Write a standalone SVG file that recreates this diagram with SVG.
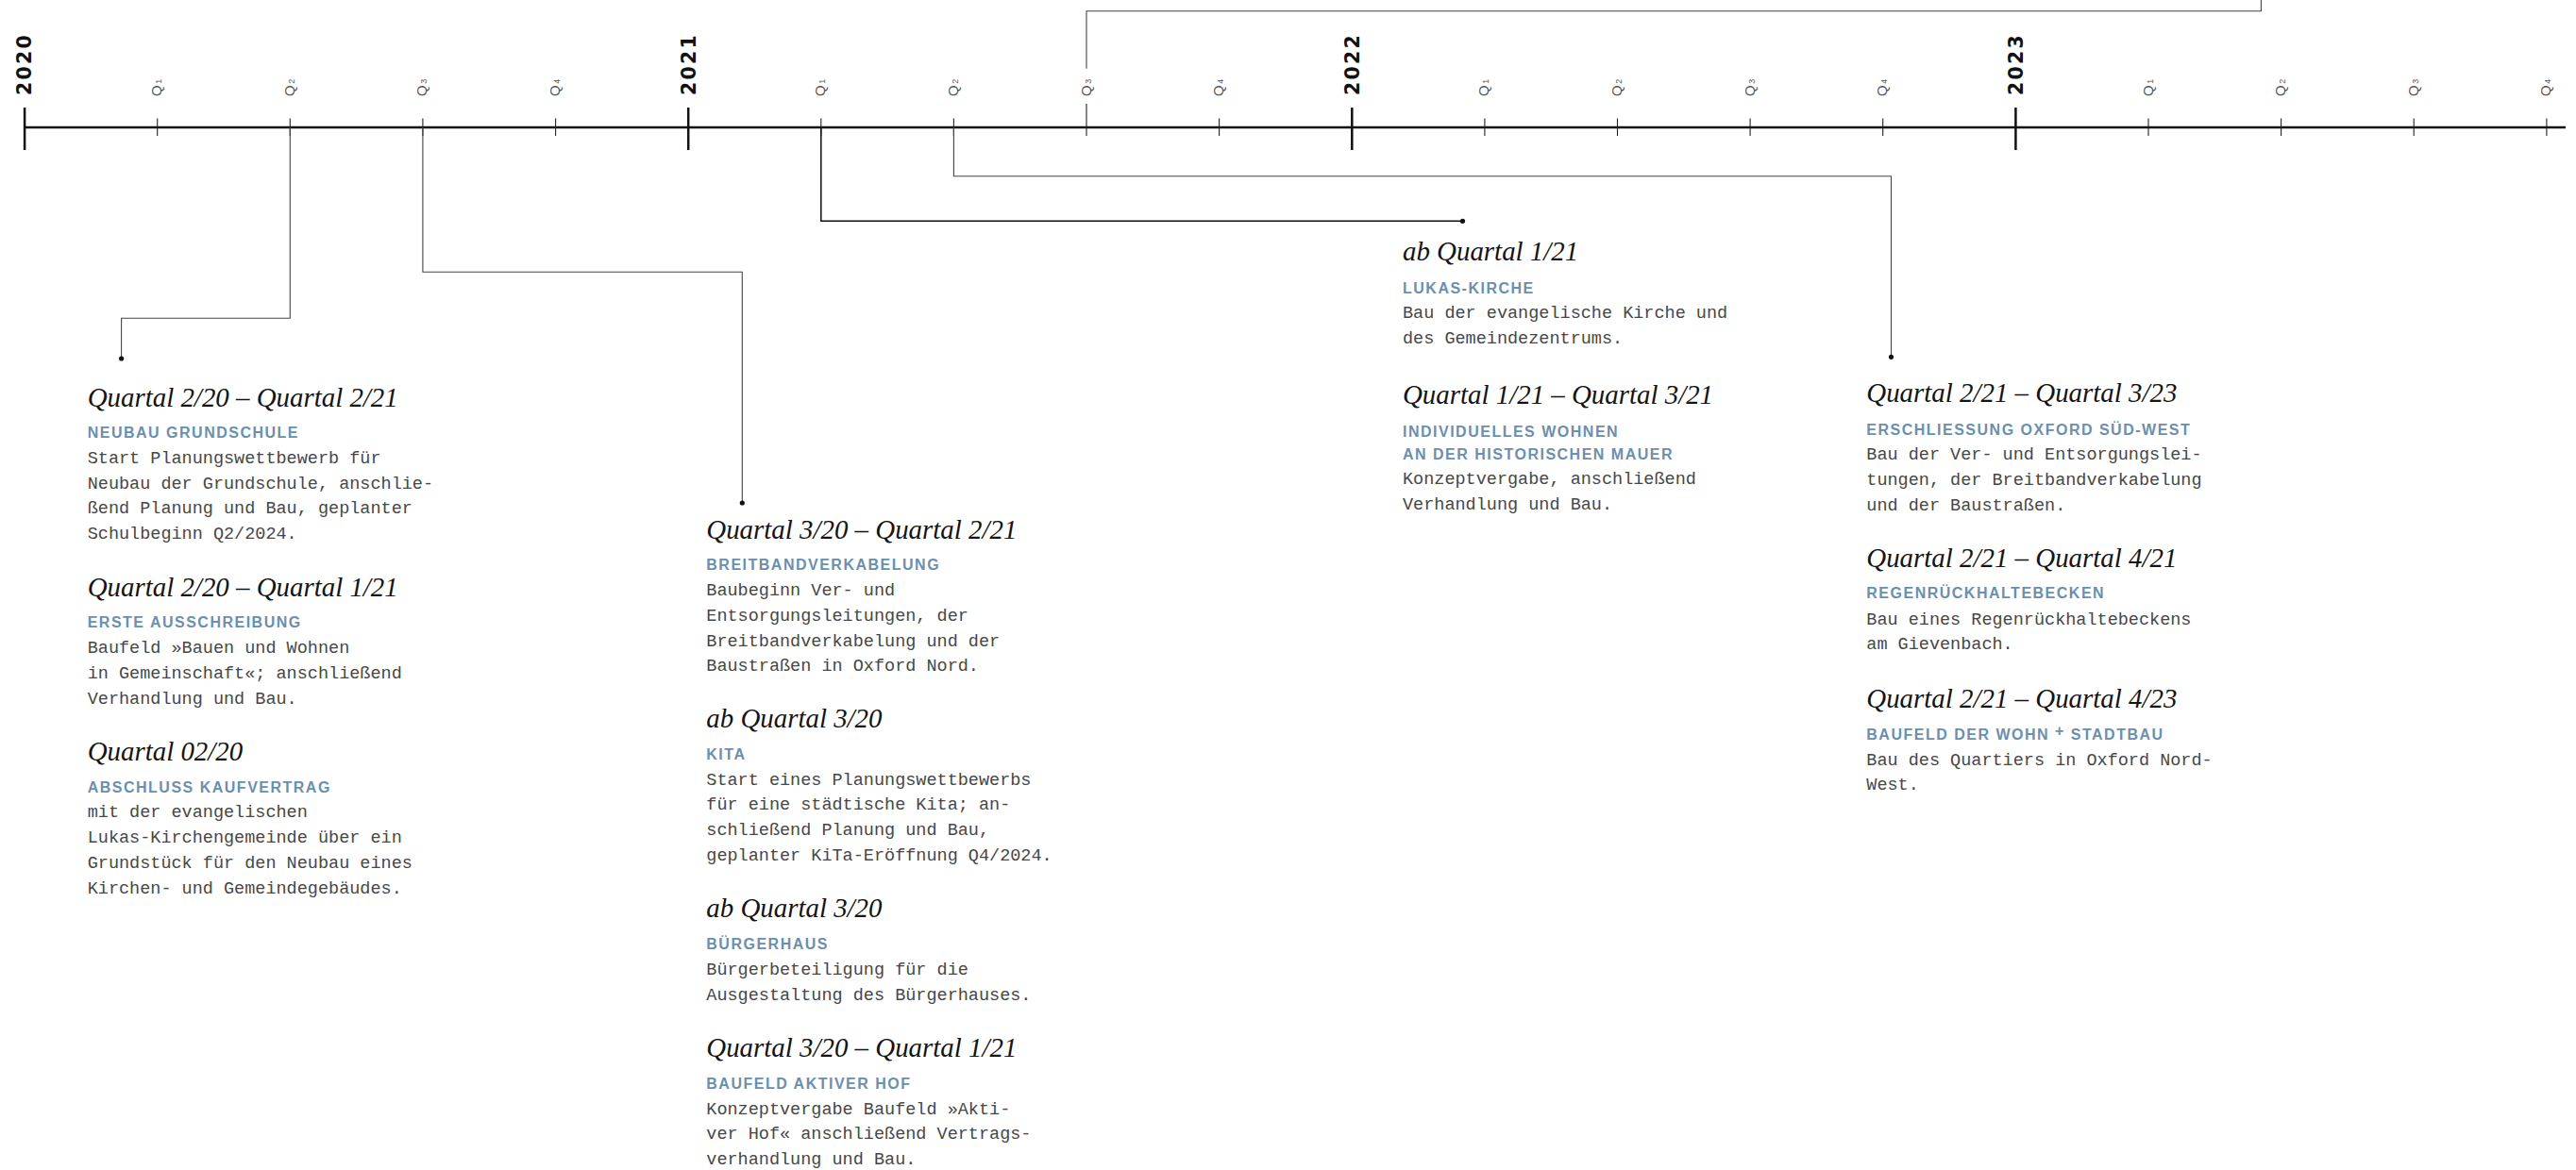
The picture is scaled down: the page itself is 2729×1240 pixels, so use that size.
<svg xmlns="http://www.w3.org/2000/svg" width="2729" height="1240" viewBox="0 0 2729 1240">
<style>
.h{font-family:"Liberation Serif",serif;font-style:italic;font-size:28.9px;fill:#141414}
.s{font-family:"Liberation Sans",sans-serif;font-weight:bold;font-size:16px;letter-spacing:1.5px;fill:#6b8fae}
.b{font-family:"Liberation Mono",monospace;font-size:18.5px;fill:#474747}
.yr{font-family:"DejaVu Sans",sans-serif;font-weight:bold;font-size:20.5px;letter-spacing:2.2px;fill:#111}
.q{font-family:"Liberation Sans",sans-serif;font-size:15px;fill:#555}
.qn{font-size:9px}
.axis{stroke:#111;stroke-width:2.3;fill:none}
.ytick{stroke:#111;stroke-width:2.5}
.qtick{stroke:#222;stroke-width:1.1}
.con{fill:none;stroke:#444;stroke-width:1.1}
.dot{fill:#111}
</style>
<g id="timeline">
<line class="axis" x1="25" y1="135" x2="2718" y2="135"/>
<line class="ytick" x1="26.1" y1="114" x2="26.1" y2="159"/>
<line class="ytick" x1="729.2" y1="114" x2="729.2" y2="159"/>
<line class="ytick" x1="1432.3" y1="114" x2="1432.3" y2="159"/>
<line class="ytick" x1="2135.4" y1="114" x2="2135.4" y2="159"/>
<g class="qtick">
<line x1="166.7" y1="125.5" x2="166.7" y2="144"/>
<line x1="307.3" y1="125.5" x2="307.3" y2="144"/>
<line x1="447.9" y1="125.5" x2="447.9" y2="144"/>
<line x1="588.6" y1="125.5" x2="588.6" y2="144"/>
<line x1="869.8" y1="125.5" x2="869.8" y2="144"/>
<line x1="1010.4" y1="125.5" x2="1010.4" y2="144"/>
<line x1="1151" y1="110" x2="1151" y2="144"/>
<line x1="1291.6" y1="125.5" x2="1291.6" y2="144"/>
<line x1="1572.9" y1="125.5" x2="1572.9" y2="144"/>
<line x1="1713.5" y1="125.5" x2="1713.5" y2="144"/>
<line x1="1854.1" y1="125.5" x2="1854.1" y2="144"/>
<line x1="1994.7" y1="125.5" x2="1994.7" y2="144"/>
<line x1="2276" y1="125.5" x2="2276" y2="144"/>
<line x1="2416.6" y1="125.5" x2="2416.6" y2="144"/>
<line x1="2557.2" y1="125.5" x2="2557.2" y2="144"/>
<line x1="2697.9" y1="125.5" x2="2697.9" y2="144"/>
</g>
<text class="yr" transform="translate(33.4,101) rotate(-90)">2020</text>
<text class="yr" transform="translate(736.5,101) rotate(-90)">2021</text>
<text class="yr" transform="translate(1439.6,101) rotate(-90)">2022</text>
<text class="yr" transform="translate(2142.7,101) rotate(-90)">2023</text>
<text class="q" transform="translate(171.2,102) rotate(-90)">Q<tspan class="qn" dx="1.5">1</tspan></text>
<text class="q" transform="translate(311.8,102) rotate(-90)">Q<tspan class="qn" dx="1.5">2</tspan></text>
<text class="q" transform="translate(452.4,102) rotate(-90)">Q<tspan class="qn" dx="1.5">3</tspan></text>
<text class="q" transform="translate(593.1,102) rotate(-90)">Q<tspan class="qn" dx="1.5">4</tspan></text>
<text class="q" transform="translate(874.3,102) rotate(-90)">Q<tspan class="qn" dx="1.5">1</tspan></text>
<text class="q" transform="translate(1014.9,102) rotate(-90)">Q<tspan class="qn" dx="1.5">2</tspan></text>
<text class="q" transform="translate(1155.5,102) rotate(-90)">Q<tspan class="qn" dx="1.5">3</tspan></text>
<text class="q" transform="translate(1296.1,102) rotate(-90)">Q<tspan class="qn" dx="1.5">4</tspan></text>
<text class="q" transform="translate(1577.4,102) rotate(-90)">Q<tspan class="qn" dx="1.5">1</tspan></text>
<text class="q" transform="translate(1718,102) rotate(-90)">Q<tspan class="qn" dx="1.5">2</tspan></text>
<text class="q" transform="translate(1858.6,102) rotate(-90)">Q<tspan class="qn" dx="1.5">3</tspan></text>
<text class="q" transform="translate(1999.2,102) rotate(-90)">Q<tspan class="qn" dx="1.5">4</tspan></text>
<text class="q" transform="translate(2280.5,102) rotate(-90)">Q<tspan class="qn" dx="1.5">1</tspan></text>
<text class="q" transform="translate(2421.1,102) rotate(-90)">Q<tspan class="qn" dx="1.5">2</tspan></text>
<text class="q" transform="translate(2561.7,102) rotate(-90)">Q<tspan class="qn" dx="1.5">3</tspan></text>
<text class="q" transform="translate(2702.4,102) rotate(-90)">Q<tspan class="qn" dx="1.5">4</tspan></text>
</g>
<g id="connectors">
<polyline class="con" points="307.3,135 307.3,337.3 128.6,337.3 128.6,380"/>
<circle class="dot" cx="128.6" cy="380" r="2.6"/>
<polyline class="con" points="447.9,135 447.9,288.3 786.3,288.3 786.3,533"/>
<circle class="dot" cx="786.3" cy="533" r="2.6"/>
<polyline class="con" points="869.8,135 869.8,234.3 1549.5,234.3" style="stroke:#111;stroke-width:1.5"/>
<circle class="dot" cx="1549.5" cy="234.3" r="2.6"/>
<polyline class="con" points="1010.4,135 1010.4,186.7 2003.5,186.7 2003.5,378.3"/>
<circle class="dot" cx="2003.5" cy="378.3" r="2.6"/>
<polyline class="con" points="1151,72.7 1151,11.7 2395.4,11.7 2395.4,0"/>
</g>
<g id="neubau-grundschule">
<text class="h" x="92.7" y="430.7">Quartal 2/20 – Quartal 2/21</text>
<text class="s" x="92.7" y="464.2">NEUBAU GRUNDSCHULE</text>
<text class="b" x="92.7" y="491"><tspan x="92.7">Start Planungswettbewerb für</tspan><tspan x="92.7" dy="26.7">Neubau der Grundschule, anschlie-</tspan><tspan x="92.7" dy="26.7">ßend Planung und Bau, geplanter</tspan><tspan x="92.7" dy="26.7">Schulbeginn Q2/2024.</tspan></text>
</g>
<g id="erste-ausschreibung">
<text class="h" x="92.7" y="631.7">Quartal 2/20 – Quartal 1/21</text>
<text class="s" x="92.7" y="665.2">ERSTE AUSSCHREIBUNG</text>
<text class="b" x="92.7" y="692.4"><tspan x="92.7">Baufeld »Bauen und Wohnen</tspan><tspan x="92.7" dy="26.7">in Gemeinschaft«; anschließend</tspan><tspan x="92.7" dy="26.7">Verhandlung und Bau.</tspan></text>
</g>
<g id="abschluss-kaufvertrag">
<text class="h" x="92.7" y="806">Quartal 02/20</text>
<text class="s" x="92.7" y="839.8">ABSCHLUSS KAUFVERTRAG</text>
<text class="b" x="92.7" y="866.4"><tspan x="92.7">mit der evangelischen</tspan><tspan x="92.7" dy="26.7">Lukas-Kirchengemeinde über ein</tspan><tspan x="92.7" dy="26.7">Grundstück für den Neubau eines</tspan><tspan x="92.7" dy="26.7">Kirchen- und Gemeindegebäudes.</tspan></text>
</g>
<g id="breitbandverkabelung">
<text class="h" x="748.3" y="570.7">Quartal 3/20 – Quartal 2/21</text>
<text class="s" x="748.3" y="604">BREITBANDVERKABELUNG</text>
<text class="b" x="748.3" y="631.2"><tspan x="748.3">Baubeginn Ver- und</tspan><tspan x="748.3" dy="26.7">Entsorgungsleitungen, der</tspan><tspan x="748.3" dy="26.7">Breitbandverkabelung und der</tspan><tspan x="748.3" dy="26.7">Baustraßen in Oxford Nord.</tspan></text>
</g>
<g id="kita">
<text class="h" x="748.3" y="771">ab Quartal 3/20</text>
<text class="s" x="748.3" y="804.6">KITA</text>
<text class="b" x="748.3" y="831.6"><tspan x="748.3">Start eines Planungswettbewerbs</tspan><tspan x="748.3" dy="26.7">für eine städtische Kita; an-</tspan><tspan x="748.3" dy="26.7">schließend Planung und Bau,</tspan><tspan x="748.3" dy="26.7">geplanter KiTa-Eröffnung Q4/2024.</tspan></text>
</g>
<g id="buergerhaus">
<text class="h" x="748.3" y="972.4">ab Quartal 3/20</text>
<text class="s" x="748.3" y="1005.8">BÜRGERHAUS</text>
<text class="b" x="748.3" y="1032.8"><tspan x="748.3">Bürgerbeteiligung für die</tspan><tspan x="748.3" dy="26.7">Ausgestaltung des Bürgerhauses.</tspan></text>
</g>
<g id="baufeld-aktiver-hof">
<text class="h" x="748.3" y="1120.2">Quartal 3/20 – Quartal 1/21</text>
<text class="s" x="748.3" y="1153.6">BAUFELD AKTIVER HOF</text>
<text class="b" x="748.3" y="1180.6"><tspan x="748.3">Konzeptvergabe Baufeld »Akti-</tspan><tspan x="748.3" dy="26.7">ver Hof« anschließend Vertrags-</tspan><tspan x="748.3" dy="26.7">verhandlung und Bau.</tspan></text>
</g>
<g id="lukas-kirche">
<text class="h" x="1486" y="276">ab Quartal 1/21</text>
<text class="s" x="1486" y="310.7">LUKAS-KIRCHE</text>
<text class="b" x="1486" y="337"><tspan x="1486">Bau der evangelische Kirche und</tspan><tspan x="1486" dy="26.7">des Gemeindezentrums.</tspan></text>
</g>
<g id="individuelles-wohnen">
<text class="h" x="1486" y="428.3">Quartal 1/21 – Quartal 3/21</text>
<text class="s" x="1486" y="462.7"><tspan x="1486">INDIVIDUELLES WOHNEN</tspan><tspan x="1486" dy="24">AN DER HISTORISCHEN MAUER</tspan></text>
<text class="b" x="1486" y="513"><tspan x="1486">Konzeptvergabe, anschließend</tspan><tspan x="1486" dy="26.7">Verhandlung und Bau.</tspan></text>
</g>
<g id="erschliessung">
<text class="h" x="1977.3" y="426">Quartal 2/21 – Quartal 3/23</text>
<text class="s" x="1977.3" y="460.5">ERSCHLIESSUNG OXFORD SÜD-WEST</text>
<text class="b" x="1977.3" y="487.3"><tspan x="1977.3">Bau der Ver- und Entsorgungslei-</tspan><tspan x="1977.3" dy="26.7">tungen, der Breitbandverkabelung</tspan><tspan x="1977.3" dy="26.7">und der Baustraßen.</tspan></text>
</g>
<g id="regenrueckhaltebecken">
<text class="h" x="1977.3" y="600.7">Quartal 2/21 – Quartal 4/21</text>
<text class="s" x="1977.3" y="634.3">REGENRÜCKHALTEBECKEN</text>
<text class="b" x="1977.3" y="661.5"><tspan x="1977.3">Bau eines Regenrückhaltebeckens</tspan><tspan x="1977.3" dy="26.7">am Gievenbach.</tspan></text>
</g>
<g id="baufeld-wohn-stadtbau">
<text class="h" x="1977.3" y="750">Quartal 2/21 – Quartal 4/23</text>
<text class="s" x="1977.3" y="783.5">BAUFELD DER WOHN <tspan dy="-4">+</tspan><tspan dy="4"> STADTBAU</tspan></text>
<text class="b" x="1977.3" y="810.5"><tspan x="1977.3">Bau des Quartiers in Oxford Nord-</tspan><tspan x="1977.3" dy="26.7">West.</tspan></text>
</g>
</svg>
